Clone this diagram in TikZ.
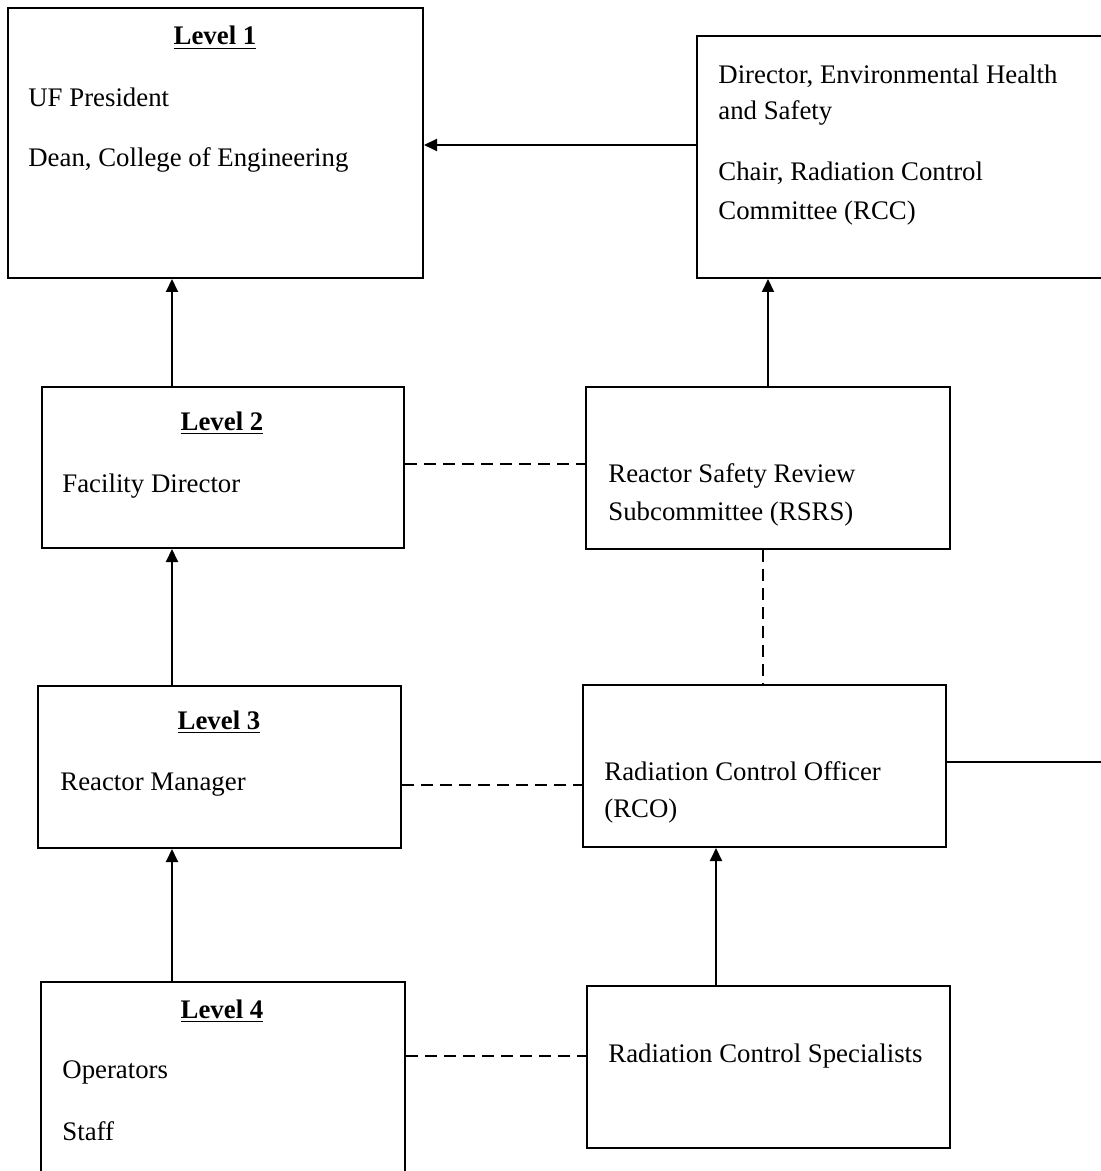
\documentclass[tikz,border=0pt]{standalone}
\usepackage{fontspec}
\setmainfont{Liberation Serif}
\usepackage{tikz}
\usetikzlibrary{arrows.meta, positioning}

\begin{document}
\begin{tikzpicture}[x=0.5pt, y=-0.5pt,
  box/.style={draw, line width=1pt, inner sep=0pt},
  txt/.style={anchor=base west, inner sep=0pt, font=\fontsize{13.4}{16}\selectfont},
  head/.style={anchor=base, inner sep=0pt, font=\fontsize{13.4}{16}\selectfont\bfseries},
  arr/.style={-{Triangle[length=6.5pt,width=6pt]}, line width=1pt},
  dsh/.style={line width=1pt, dash pattern=on 6pt off 3.5pt}]
\useasboundingbox (0,0) rectangle (1101,1171);
% boxes
\node[box, minimum width=207.5pt, minimum height=135pt] (L1) at (215.5,143) {};
\node[box, minimum width=208pt, minimum height=121pt] (RCC) at (905,157) {};
\node[box, minimum width=181pt, minimum height=80.5pt] (L2) at (223,467.5) {};
\node[box, minimum width=182pt, minimum height=81pt] (RSRS) at (768,468) {};
\node[box, minimum width=181.5pt, minimum height=81pt] (L3) at (219.5,767) {};
\node[box, minimum width=181.5pt, minimum height=81pt] (RCO) at (764.5,766) {};
\node[box, minimum width=182pt, minimum height=98pt] (L4) at (223,1080) {};
\node[box, minimum width=181.5pt, minimum height=81pt] (RCS) at (768.5,1067) {};
% texts
\node[head] (h1) at (215,45) {\underline{Level 1}};
\node[txt] (t1a) at (28,107) {UF President};
\node[txt] (t1b) at (28,167) {Dean, College of Engineering};
\node[txt] (tra) at (718,84) {Director, Environmental Health};
\node[txt] (trb) at (718,120) {and Safety};
\node[txt] (trc) at (718,181) {Chair, Radiation Control};
\node[txt] (trd) at (718,220) {Committee (RCC)};
\node[head] (h2) at (222,430) {\underline{Level 2}};
\node[txt] (t2) at (62,492) {Facility Director};
\node[txt] (tsa) at (608,482) {Reactor Safety Review};
\node[txt] (tsb) at (608,520) {Subcommittee (RSRS)};
\node[head] (h3) at (219,729) {\underline{Level 3}};
\node[txt] (t3) at (60,790) {Reactor Manager};
\node[txt] (toa) at (604,780) {Radiation Control Officer};
\node[txt] (tob) at (604,817) {(RCO)};
\node[head] (h4) at (222,1018) {\underline{Level 4}};
\node[txt] (t4a) at (62,1078) {Operators};
\node[txt] (t4b) at (62,1140) {Staff};
\node[txt] (tc) at (608,1062) {Radiation Control Specialists};
% connectors
\draw[arr] ([yshift=6pt]RCC.west) -- ([yshift=6pt]RCC.west -| L1.east);
\draw[arr] ([xshift=-25.5pt]L2.north) -- ([xshift=-25.5pt]L2.north |- L1.south);
\draw[arr] (RSRS.north) -- (RSRS.north |- RCC.south);
\draw[dsh] ([yshift=2pt]L2.east) -- ([yshift=2pt]L2.east -| RSRS.west);
\draw[dsh] ([xshift=-2.5pt]RSRS.south) -- ([xshift=-2.5pt]RSRS.south |- RCO.north);
\draw[arr] ([xshift=-23.75pt]L3.north) -- ([xshift=-23.75pt]L3.north |- L2.south);
\draw[dsh] ([yshift=-9pt]L3.east) -- ([yshift=-9pt]L3.east -| RCO.west);
\draw[arr] ([yshift=2pt]RCO.east) -| ([xshift=-3pt]RCC.south east);
\draw[arr] ([xshift=-25.5pt]L4.north) -- ([xshift=-25.5pt]L4.north |- L3.south);
\draw[arr] ([xshift=-26.25pt]RCS.north) -- ([xshift=-26.25pt]RCS.north |- RCO.south);
\draw[dsh] ([yshift=12pt]L4.east) -- ([yshift=12pt]L4.east -| RCS.west);
\end{tikzpicture}
\end{document}
